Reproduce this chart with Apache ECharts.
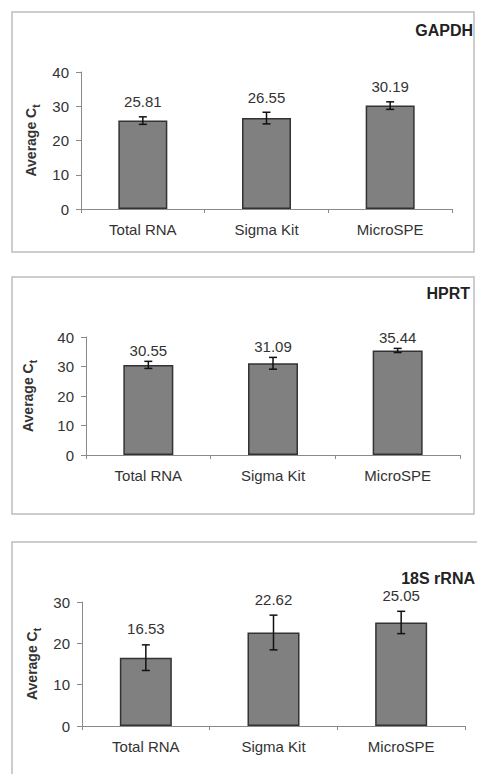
<!DOCTYPE html>
<html>
<head>
<meta charset="utf-8">
<script src="https://cdn.jsdelivr.net/npm/echarts@6/dist/echarts.min.js"></script>
<style>
  html, body { margin: 0; padding: 0; background: #fff; }
  #charts_box { width: 477px; height: 774px; }
</style>
</head>
<body>
<div id="charts_box"></div>
<script>
// data
var categories = ['Total RNA', 'Sigma Kit', 'MicroSPE'];
var panelTitles = ['GAPDH', 'HPRT', '18S rRNA'];
var gapdhMeans = [25.81, 26.55, 30.19];
var gapdhErr = [1.1, 1.7, 1.1];
var hprtMeans = [30.55, 31.09, 35.44];
var hprtErr = [1.2, 2.0, 0.7];
var rrnaMeans = [16.53, 22.62, 25.05];
var rrnaErr = [3.1, 4.2, 2.7];
var yMax = [40, 40, 30];

var FONT = 'Liberation Sans, Arial, sans-serif';

window.onload = function () {
    var myChart = echarts.init(document.getElementById('charts_box'), null, { renderer: 'svg' });

    var means = [gapdhMeans, hprtMeans, rrnaMeans];
    var errs = [gapdhErr, hprtErr, rrnaErr];

    // layout of each panel
    var grids = [
        { left: 81, top: 72, width: 371, height: 137 },
        { left: 86, top: 337, width: 374, height: 118 },
        { left: 82, top: 602, width: 383, height: 124 }
    ];
    var boxes = [
        [12, 12, 462, 240],
        [12, 277, 462, 237],
        [12, 542, 470, 240]
    ];
    var titlePos = [[4, 22], [7, 285], [2, 570]];
    var labelGap = [15, 11, 16];
    var barW = [49, 50, 52];
    var nameGaps = [37, 51, 40];

    var xAxes = [], yAxes = [], series = [], titles = [], graphics = [];

    for (var p = 0; p < 3; p++) {
        titles.push({
            text: panelTitles[p],
            right: titlePos[p][0],
            top: titlePos[p][1],
            padding: 0,
            textStyle: { fontFamily: FONT, fontSize: 16, fontWeight: 'bold', color: '#222' }
        });

        graphics.push({
            type: 'rect',
            shape: { x: boxes[p][0], y: boxes[p][1], width: boxes[p][2], height: boxes[p][3] },
            style: { fill: 'none', stroke: '#bdbdbd', lineWidth: 1.5 },
            silent: true
        });

        xAxes.push({
            gridIndex: p,
            type: 'category',
            data: categories,
            axisLine: { lineStyle: { color: '#8a8a8a', width: 1 } },
            axisTick: { show: true, length: 4, lineStyle: { color: '#8a8a8a' } },
            axisLabel: { interval: 0, margin: 13, fontFamily: FONT, fontSize: 15, color: '#333' }
        });

        yAxes.push({
            gridIndex: p,
            type: 'value',
            min: 0,
            max: yMax[p],
            interval: 10,
            splitLine: { show: false },
            axisLine: { show: true, lineStyle: { color: '#8a8a8a', width: 1 } },
            axisTick: { show: true, length: 5, lineStyle: { color: '#8a8a8a' } },
            axisLabel: { margin: 12, fontFamily: FONT, fontSize: 15, color: '#333' },
            name: '{a|Average C}{s|t}',
            nameLocation: 'middle',
            nameGap: nameGaps[p],
            nameTextStyle: {
                rich: {
                    a: { fontFamily: FONT, fontSize: 14, fontWeight: 'bold', color: '#333', lineHeight: 18, verticalAlign: 'bottom' },
                    s: { fontFamily: FONT, fontSize: 10, fontWeight: 'bold', color: '#333', lineHeight: 18, verticalAlign: 'bottom', padding: [0, 0, -3, 0] }
                }
            }
        });

        series.push({
            type: 'bar',
            xAxisIndex: p,
            yAxisIndex: p,
            barWidth: barW[p],
            data: means[p],
            itemStyle: { color: '#808080', borderColor: '#333', borderWidth: 1.5 },
            silent: true
        });

        var errData = means[p].map(function (m, i) { return [i, m, errs[p][i]]; });
        series.push({
            type: 'custom',
            xAxisIndex: p,
            yAxisIndex: p,
            data: errData,
            encode: { x: 0, y: 1 },
            z: 10,
            silent: true,
            renderItem: (function (gap) {
                return function (params, api) {
                    var x = api.value(0), m = api.value(1), e = api.value(2);
                    var hi = api.coord([x, m + e]);
                    var lo = api.coord([x, m - e]);
                    var cap = 4;
                    var st = { stroke: '#111', lineWidth: 1.5 };
                    return {
                        type: 'group',
                        children: [
                            { type: 'line', shape: { x1: hi[0], y1: hi[1], x2: lo[0], y2: lo[1] }, style: st },
                            { type: 'line', shape: { x1: hi[0] - cap, y1: hi[1], x2: hi[0] + cap, y2: hi[1] }, style: st },
                            { type: 'line', shape: { x1: lo[0] - cap, y1: lo[1], x2: lo[0] + cap, y2: lo[1] }, style: st },
                            {
                                type: 'text',
                                style: {
                                    text: m.toFixed(2),
                                    x: hi[0],
                                    y: hi[1] - gap,
                                    align: 'center',
                                    verticalAlign: 'middle',
                                    fontFamily: FONT,
                                    fontSize: 15,
                                    fill: '#333'
                                }
                            }
                        ]
                    };
                };
            })(labelGap[p])
        });
    }

    var option = {
        backgroundColor: '#fff',
        animation: false,
        title: titles,
        graphic: graphics,
        grid: grids,
        xAxis: xAxes,
        yAxis: yAxes,
        series: series
    };
    myChart.setOption(option);
};
</script>
</body>
</html>
